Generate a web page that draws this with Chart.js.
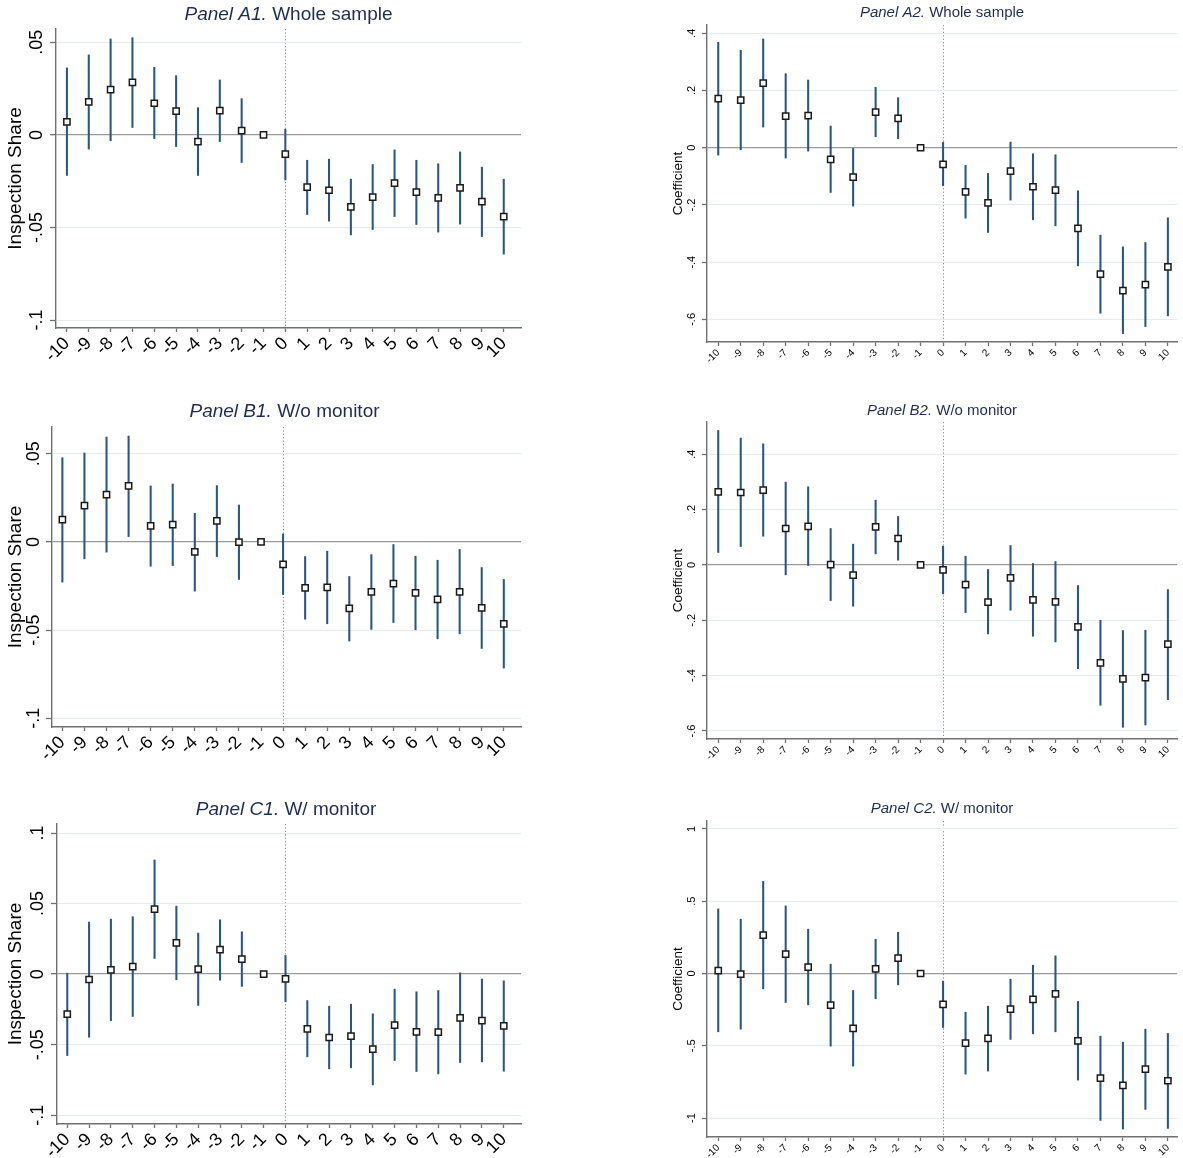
<!DOCTYPE html>
<html>
<head>
<meta charset="utf-8">
<title>Event-study estimates</title>
<script src="https://cdn.jsdelivr.net/npm/chart.js@4.4.1/dist/chart.umd.min.js"></script>
<style>
  html, body { margin: 0; padding: 0; background: #ffffff; }
  #page { position: relative; width: 1183px; height: 1158px; overflow: hidden; background: #ffffff; }
  #page canvas { position: absolute; }
</style>
</head>
<body>
<div id="page"></div>
<script>
// Event time (periods relative to treatment) and their tick labels
const periods = [-10, -9, -8, -7, -6, -5, -4, -3, -2, -1, 0, 1, 2, 3, 4, 5, 6, 7, 8, 9, 10];
const periodLabels = ["-10", "-9", "-8", "-7", "-6", "-5", "-4", "-3", "-2", "-1", "0", "1", "2", "3", "4", "5", "6", "7", "8", "9", "10"];

// Y-axis ticks
const shareTicks = [-0.1, -0.05, 0, 0.05];
const shareTickLabels = ["-.1", "-.05", "0", ".05"];
const shareTicksWide = [-0.1, -0.05, 0, 0.05, 0.1];
const shareTickLabelsWide = ["-.1", "-.05", "0", ".05", ".1"];
const coefTicks = [-0.6, -0.4, -0.2, 0, 0.2, 0.4];
const coefTickLabels = ["-.6", "-.4", "-.2", "0", ".2", ".4"];
const coefTicksWide = [-1, -0.5, 0, 0.5, 1];
const coefTickLabelsWide = ["-1", "-.5", "0", ".5", "1"];

// Panel A1 – inspection share, whole sample
const a1Coef  = [0.0070, 0.0178, 0.0245, 0.0284, 0.0171, 0.0129, -0.0036, 0.0131, 0.0023, 0, -0.0104, -0.0282, -0.0299, -0.0389, -0.0336, -0.0261, -0.0309, -0.0340, -0.0286, -0.0360, -0.0441];
const a1Lower = [-0.0219, -0.0077, -0.0031, 0.0040, -0.0020, -0.0063, -0.0219, -0.0036, -0.0149, null, -0.0243, -0.0430, -0.0466, -0.0540, -0.0511, -0.0441, -0.0484, -0.0525, -0.0482, -0.0549, -0.0644];
const a1Upper = [0.0362, 0.0432, 0.0518, 0.0525, 0.0365, 0.0320, 0.0147, 0.0297, 0.0196, null, 0.0031, -0.0137, -0.0131, -0.0239, -0.0160, -0.0081, -0.0137, -0.0156, -0.0092, -0.0174, -0.0239];

// Panel A2 – coefficient, whole sample
const a2Coef  = [0.1714, 0.1668, 0.2262, 0.1108, 0.1120, -0.0408, -0.1026, 0.1248, 0.1026, 0, -0.0583, -0.1539, -0.1924, -0.0816, -0.1364, -0.1481, -0.2822, -0.4420, -0.4991, -0.4781, -0.4163];
const a2Lower = [-0.0257, -0.0070, 0.0723, -0.0362, -0.0117, -0.1563, -0.2041, 0.0385, 0.0315, null, -0.1329, -0.2461, -0.2962, -0.1831, -0.2519, -0.2729, -0.4128, -0.5784, -0.6496, -0.6251, -0.5877];
const a2Upper = [0.3685, 0.3405, 0.3802, 0.2589, 0.2367, 0.0758, 0.0000, 0.2111, 0.1749, null, 0.0187, -0.0618, -0.0898, 0.0198, -0.0210, -0.0245, -0.1504, -0.3055, -0.3464, -0.3312, -0.2449];

// Panel B1 – inspection share, without monitor
const b1Coef  = [0.0126, 0.0206, 0.0268, 0.0317, 0.0091, 0.0098, -0.0057, 0.0119, -0.0002, 0, -0.0128, -0.0260, -0.0258, -0.0377, -0.0283, -0.0236, -0.0289, -0.0326, -0.0283, -0.0374, -0.0464];
const b1Lower = [-0.0228, -0.0096, -0.0058, 0.0030, -0.0138, -0.0134, -0.0279, -0.0083, -0.0213, null, -0.0298, -0.0438, -0.0464, -0.0562, -0.0496, -0.0457, -0.0498, -0.0549, -0.0521, -0.0604, -0.0715];
const b1Upper = [0.0477, 0.0504, 0.0594, 0.0600, 0.0317, 0.0328, 0.0162, 0.0319, 0.0209, null, 0.0045, -0.0083, -0.0053, -0.0196, -0.0072, -0.0015, -0.0081, -0.0104, -0.0043, -0.0145, -0.0213];

// Panel B2 – coefficient, without monitor
const b2Coef  = [0.2638, 0.2614, 0.2699, 0.1313, 0.1386, 0.0012, -0.0373, 0.1373, 0.0952, 0, -0.0181, -0.0711, -0.1349, -0.0470, -0.1265, -0.1337, -0.2241, -0.3542, -0.4120, -0.4072, -0.2867];
const b2Lower = [0.0446, 0.0663, 0.1036, -0.0361, -0.0024, -0.1289, -0.1494, 0.0398, 0.0169, null, -0.1048, -0.1723, -0.2494, -0.1639, -0.2578, -0.2783, -0.3747, -0.5072, -0.5867, -0.5783, -0.4867];
const b2Upper = [0.4855, 0.4578, 0.4373, 0.2988, 0.2819, 0.1313, 0.0747, 0.2337, 0.1747, null, 0.0675, 0.0313, -0.0169, 0.0699, 0.0048, 0.0120, -0.0747, -0.2000, -0.2373, -0.2361, -0.0892];

// Panel C1 – inspection share, with monitor
const c1Coef  = [-0.0284, -0.0038, 0.0031, 0.0054, 0.0461, 0.0222, 0.0035, 0.0173, 0.0106, 0, -0.0033, -0.0388, -0.0449, -0.0440, -0.0532, -0.0362, -0.0409, -0.0411, -0.0310, -0.0329, -0.0366];
const c1Lower = [-0.0577, -0.0447, -0.0329, -0.0300, 0.0111, -0.0040, -0.0222, -0.0043, -0.0087, null, -0.0196, -0.0586, -0.0671, -0.0664, -0.0785, -0.0612, -0.0690, -0.0707, -0.0626, -0.0622, -0.0688];
const c1Upper = [0.0007, 0.0369, 0.0390, 0.0407, 0.0809, 0.0482, 0.0291, 0.0385, 0.0300, null, 0.0132, -0.0187, -0.0227, -0.0213, -0.0281, -0.0106, -0.0125, -0.0116, 0.0009, -0.0035, -0.0047];

// Panel C2 – coefficient, with monitor
const c2Coef  = [0.0207, -0.0046, 0.2650, 0.1336, 0.0438, -0.2189, -0.3802, 0.0323, 0.1060, 0, -0.2143, -0.4816, -0.4493, -0.2465, -0.1797, -0.1406, -0.4654, -0.7235, -0.7742, -0.6613, -0.7419];
const c2Lower = [-0.4032, -0.3848, -0.1060, -0.2005, -0.2166, -0.5023, -0.6405, -0.1751, -0.0783, null, -0.3733, -0.6959, -0.6751, -0.4562, -0.4171, -0.4032, -0.7373, -1.0161, -1.0760, -0.9401, -1.0714];
const c2Upper = [0.4470, 0.3756, 0.6382, 0.4677, 0.3064, 0.0645, -0.1175, 0.2373, 0.2857, null, -0.0530, -0.2673, -0.2258, -0.0392, 0.0576, 0.1221, -0.1935, -0.4332, -0.4747, -0.3848, -0.4147];

// ---- styling ----
const FONT = "'Liberation Sans', Arial, Helvetica, sans-serif";
const TITLE_COLOR = '#1f2d50';
const CI_COLOR = '#2a5683';
const AXIS_COLOR = '#707070';
const GRID_COLOR = '#e3edef';
const ZERO_COLOR = '#9a9a9a';
const REF_COLOR = '#8a8a8a';

// Draws the two-part panel heading ("Panel X." in italics, then the subtitle)
const panelTitle = {
  id: 'panelTitle',
  afterDraw(chart, args, opts) {
    const { ctx, chartArea } = chart;
    ctx.save();
    ctx.fillStyle = opts.color;
    ctx.textBaseline = 'middle';
    ctx.textAlign = 'left';
    const italic = 'italic ' + opts.size + 'px ' + FONT;
    const normal = opts.size + 'px ' + FONT;
    ctx.font = italic;
    const w1 = ctx.measureText(opts.lead).width;
    ctx.font = normal;
    const w2 = ctx.measureText(opts.rest).width;
    const cx = (chartArea.left + chartArea.right) / 2 + (opts.dx || 0);
    const x0 = cx - (w1 + w2) / 2;
    ctx.font = italic;
    ctx.fillText(opts.lead, x0, opts.y);
    ctx.font = normal;
    ctx.fillText(opts.rest, x0 + w1, opts.y);
    ctx.restore();
  }
};

const page = document.getElementById('page');

function makePanel(p) {
  const canvas = document.createElement('canvas');
  canvas.width = p.w;
  canvas.height = p.h;
  canvas.style.left = p.x + 'px';
  canvas.style.top = p.y + 'px';
  canvas.style.width = p.w + 'px';
  canvas.style.height = p.h + 'px';
  page.appendChild(canvas);

  const pointData = periods.map((t, i) => ({ x: t, y: p.coef[i] }));
  const ciData = periods
    .map((t, i) => ({ x: t, lo: p.lower[i], hi: p.upper[i] }))
    .filter(d => d.lo !== null && d.hi !== null)
    .map(d => ({ x: d.x, y: [d.lo, d.hi] }));

  new Chart(canvas, {
    type: 'bar',
    data: {
      datasets: [
        {
          type: 'scatter',
          data: pointData,
          pointStyle: 'rect',
          pointRadius: p.markerRadius,
          pointBackgroundColor: '#ffffff',
          pointBorderColor: '#1a1a1a',
          pointBorderWidth: 1.5,
          order: 1
        },
        {
          type: 'bar',
          data: ciData,
          backgroundColor: CI_COLOR,
          borderWidth: 0,
          barThickness: 1.4,
          order: 2
        }
      ]
    },
    options: {
      responsive: false,
      animation: false,
      devicePixelRatio: 1,
      events: [],
      layout: { padding: { top: p.plot.top, right: p.w - p.plot.right, left: 0, bottom: 0 } },
      plugins: {
        legend: { display: false },
        tooltip: { enabled: false },
        panelTitle: { lead: p.titleLead, rest: p.titleRest, size: p.titleSize, y: p.titleY, color: TITLE_COLOR, dx: p.titleDx || 0 }
      },
      scales: {
        x: {
          type: 'linear',
          bounds: 'data',
          min: p.xMin,
          max: p.xMax,
          offset: false,
          afterBuildTicks: s => { s.ticks = periods.map(v => ({ value: v })); },
          afterFit: s => {
            s.height = p.h - p.plot.bottom;
            s.paddingLeft = 0; s.paddingRight = 0; s.paddingTop = 0; s.paddingBottom = 0;
          },
          ticks: {
            autoSkip: false,
            minRotation: 45,
            maxRotation: 45,
            padding: p.xTickPad,
            color: '#000000',
            font: { family: FONT, size: p.xTickSize },
            callback: (v, i) => periodLabels[i]
          },
          grid: {
            offset: false,
            color: c => (c.tick && c.tick.value === 0) ? REF_COLOR : 'rgba(0,0,0,0)',
            lineWidth: 1,
            tickLength: p.xTickLen,
            tickColor: AXIS_COLOR,
            tickWidth: 1.3
          },
          border: { display: true, color: AXIS_COLOR, width: 1.4, dash: [1.2, 2.2] }
        },
        y: {
          type: 'linear',
          bounds: 'data',
          min: p.yMin,
          max: p.yMax,
          afterBuildTicks: s => { s.ticks = p.yTicks.map(v => ({ value: v })); },
          afterFit: s => {
            s.width = p.plot.left;
            s.paddingTop = 0; s.paddingBottom = 0; s.paddingLeft = 0; s.paddingRight = 0;
          },
          ticks: {
            autoSkip: false,
            minRotation: 90,
            maxRotation: 90,
            crossAlign: 'center',
            padding: p.yTickPad,
            color: '#000000',
            font: { family: FONT, size: p.yTickSize },
            callback: (v, i) => p.yTickLabels[i]
          },
          grid: {
            color: c => (c.tick && c.tick.value === 0) ? ZERO_COLOR : GRID_COLOR,
            lineWidth: c => (c.tick && c.tick.value === 0) ? 1.3 : 1,
            tickLength: p.yTickLen,
            tickColor: AXIS_COLOR,
            tickWidth: 1.3
          },
          border: { display: true, color: AXIS_COLOR, width: 1.4 },
          title: {
            display: true,
            text: p.yTitle,
            color: '#000000',
            font: { family: FONT, size: p.yTitleSize, lineHeight: 1.2 },
            padding: { top: p.yTitlePad, bottom: 0 }
          }
        }
      }
    },
    plugins: [panelTitle]
  });
}

// Left column: inspection share; right column: coefficients
const leftStyle = {
  titleSize: 19, xTickSize: 18, yTickSize: 18, yTitleSize: 19, yTitlePad: 4,
  xTickLen: 4, yTickLen: 6, xTickPad: 1, markerRadius: 4.4,
  yTitle: 'Inspection Share'
};
const rightStyle = {
  titleSize: 15, xTickSize: 10, yTickSize: 11, yTitleSize: 13.5, yTitlePad: 10,
  xTickLen: 4, yTickLen: 5, xTickPad: 1, yTickPad: 4, markerRadius: 4.4,
  yTitle: 'Coefficient'
};

makePanel(Object.assign({}, leftStyle, {
  x: 0, y: 0, w: 530, h: 375, plot: { left: 56, top: 29, right: 521, bottom: 328 },
  xMin: -10.5, xMax: 10.79, yMin: -0.1043, yMax: 0.0572,
  yTicks: shareTicks, yTickLabels: shareTickLabels, yTickPad: -3,
  coef: a1Coef, lower: a1Lower, upper: a1Upper,
  titleLead: 'Panel A1.', titleRest: ' Whole sample', titleY: 15
}));

makePanel(Object.assign({}, rightStyle, {
  x: 660, y: 0, w: 523, h: 375, plot: { left: 47, top: 25, right: 523, bottom: 342 },
  xMin: -10.5, xMax: 10.41, yMin: -0.679, yMax: 0.429,
  yTicks: coefTicks, yTickLabels: coefTickLabels,
  coef: a2Coef, lower: a2Lower, upper: a2Upper,
  titleLead: 'Panel A2.', titleRest: ' Whole sample', titleY: 13
}));

makePanel(Object.assign({}, leftStyle, {
  x: 0, y: 395, w: 530, h: 375, plot: { left: 52, top: 32, right: 521, bottom: 332 },
  xMin: -10.47, xMax: 10.78, yMin: -0.1049, yMax: 0.0651,
  yTicks: shareTicks, yTickLabels: shareTickLabels, yTickPad: -4,
  coef: b1Coef, lower: b1Lower, upper: b1Upper,
  titleLead: 'Panel B1.', titleRest: ' W/o monitor', titleY: 17, titleDx: -2
}));

makePanel(Object.assign({}, rightStyle, {
  x: 660, y: 395, w: 523, h: 375, plot: { left: 47, top: 27, right: 523, bottom: 344 },
  xMin: -10.5, xMax: 10.41, yMin: -0.629, yMax: 0.516,
  yTicks: coefTicks, yTickLabels: coefTickLabels,
  coef: b2Coef, lower: b2Lower, upper: b2Upper,
  titleLead: 'Panel B2.', titleRest: ' W/o monitor', titleY: 16
}));

makePanel(Object.assign({}, leftStyle, {
  x: 0, y: 790, w: 530, h: 368, plot: { left: 57, top: 34, right: 521, bottom: 334 },
  xMin: -10.47, xMax: 10.79, yMin: -0.1062, yMax: 0.1064,
  yTicks: shareTicksWide, yTickLabels: shareTickLabelsWide, yTickPad: -2.5,
  coef: c1Coef, lower: c1Lower, upper: c1Upper,
  titleLead: 'Panel C1.', titleRest: ' W/ monitor', titleY: 20, titleDx: -3
}));

makePanel(Object.assign({}, rightStyle, {
  x: 660, y: 790, w: 523, h: 368, plot: { left: 47, top: 31, right: 523, bottom: 347 },
  xMin: -10.5, xMax: 10.41, yMin: -1.131, yMax: 1.055,
  yTicks: coefTicksWide, yTickLabels: coefTickLabelsWide,
  coef: c2Coef, lower: c2Lower, upper: c2Upper,
  titleLead: 'Panel C2.', titleRest: ' W/ monitor', titleY: 19
}));
</script>
</body>
</html>
